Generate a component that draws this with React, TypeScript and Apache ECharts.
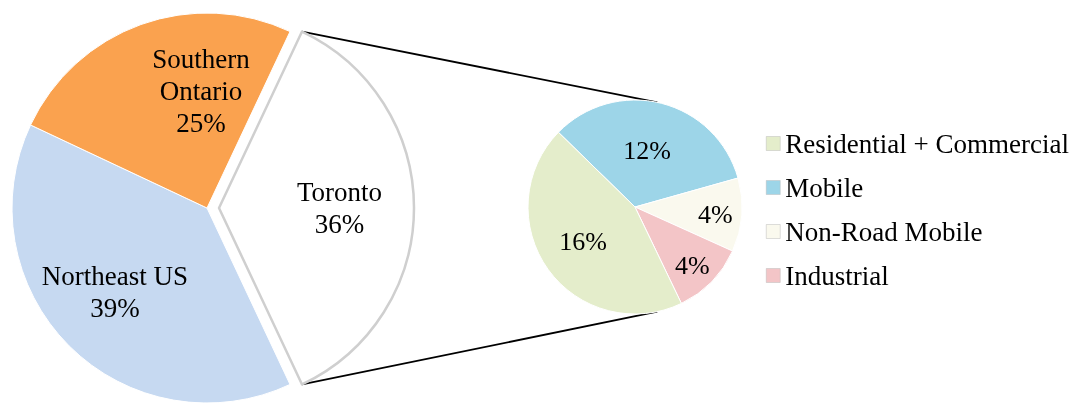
import React, { useEffect, useRef } from "react";
import * as echarts from "echarts";

// ---- data ----
const regionNames = ["Toronto", "Northeast US", "Southern Ontario"];
const regionValues = [36, 39, 25];
const regionColors = ["#FFFFFF", "#C6D9F1", "#FAA24F"];

const sourceNames = ["Mobile", "Non-Road Mobile", "Industrial", "Residential + Commercial"];
const sourceValues = [12, 4, 4, 16];
const sourceColors = ["#9DD5E8", "#FAF9EE", "#F3C5C7", "#E4EDCB"];
const legendOrder = ["Residential + Commercial", "Mobile", "Non-Road Mobile", "Industrial"];

// ---- layout ----
const FONT = "Liberation Serif";
const BIG_C = [207, 208];
const BIG_R = 195;
const EXPLODE = 12;
const SMALL_C = [635, 207];
const SMALL_R = 107;
const BIG_START = (regionValues[0] / 100) * 180; // Toronto centred on the right
const SMALL_START = 135.7;

const bigLabelShift = [
  [20, 0],
  [-21, 13],
  [28, -22],
];
const smallLabelShift = [
  [-2, -2],
  [24, 3],
  [17, 19],
  [-6, 2],
];

export default function App() {
  const ref = useRef<HTMLDivElement>(null);
  useEffect(() => {
    if (!ref.current) return;
    const chart = echarts.init(ref.current, undefined, { renderer: "svg" });

    const rad = (d: number) => (d * Math.PI) / 180;
    const topT = [
      BIG_C[0] + EXPLODE + BIG_R * Math.cos(rad(BIG_START)),
      BIG_C[1] - BIG_R * Math.sin(rad(BIG_START)),
    ];
    const botT = [topT[0], BIG_C[1] + BIG_R * Math.sin(rad(BIG_START))];
    const sa = 78;
    const topS = [SMALL_C[0] + SMALL_R * Math.cos(rad(sa)), SMALL_C[1] - SMALL_R * Math.sin(rad(sa))];
    const botS = [topS[0], SMALL_C[1] + SMALL_R * Math.sin(rad(sa))];

    chart.setOption({
      animation: false,
      legend: {
        orient: "vertical",
        left: 761,
        top: 125,
        data: legendOrder,
        icon: "rect",
        itemWidth: 14,
        itemHeight: 14,
        itemGap: 17,
        selectedMode: false,
        textStyle: { fontFamily: FONT, fontSize: 27, color: "#000" },
        itemStyle: { borderColor: "#bbb", borderWidth: 0.5 },
      },
      graphic: [
        { type: "line", shape: { x1: topT[0], y1: topT[1], x2: topS[0], y2: topS[1] }, style: { stroke: "#000", lineWidth: 1.8 }, z: 0 },
        { type: "line", shape: { x1: botT[0], y1: botT[1], x2: botS[0], y2: botS[1] }, style: { stroke: "#000", lineWidth: 1.8 }, z: 0 },
      ],
      series: [
        {
          type: "pie",
          center: BIG_C,
          radius: [0, BIG_R],
          startAngle: BIG_START,
          clockwise: true,
          selectedMode: "single",
          selectedOffset: EXPLODE,
          silent: true,
          label: {
            position: "inside",
            fontFamily: FONT,
            fontSize: 27,
            lineHeight: 32,
            color: "#000",
            formatter: (p: any) => p.name.replace("Southern ", "Southern\n") + "\n" + p.value + "%",
          },
          labelLine: { show: false },
          labelLayout: (p: any) => ({ dx: bigLabelShift[p.dataIndex][0], dy: bigLabelShift[p.dataIndex][1] }),
          data: regionNames.map((n, i) => ({
            name: n,
            value: regionValues[i],
            selected: i === 0,
            itemStyle: {
              color: regionColors[i],
              borderColor: i === 0 ? "#cfcfcf" : "#ffffff",
              borderWidth: i === 0 ? 2.5 : 1,
            },
            select: { itemStyle: { color: regionColors[i], borderColor: i === 0 ? "#cfcfcf" : "#fff", borderWidth: i === 0 ? 2.5 : 1 } },
          })),
        },
        {
          type: "pie",
          center: SMALL_C,
          radius: [0, SMALL_R],
          startAngle: SMALL_START,
          clockwise: true,
          silent: true,
          label: {
            position: "inside",
            fontFamily: FONT,
            fontSize: 26,
            color: "#000",
            formatter: (p: any) => p.value + "%",
          },
          labelLine: { show: false },
          labelLayout: (p: any) => ({ dx: smallLabelShift[p.dataIndex][0], dy: smallLabelShift[p.dataIndex][1] }),
          data: sourceNames.map((n, i) => ({
            name: n,
            value: sourceValues[i],
            itemStyle: { color: sourceColors[i], borderColor: "#ffffff", borderWidth: 1 },
          })),
        },
      ],
    });
    return () => chart.dispose();
  }, []);
  return <div ref={ref} style={{ position: "fixed", left: 0, top: 0, width: 1077, height: 404 }} />;
}
